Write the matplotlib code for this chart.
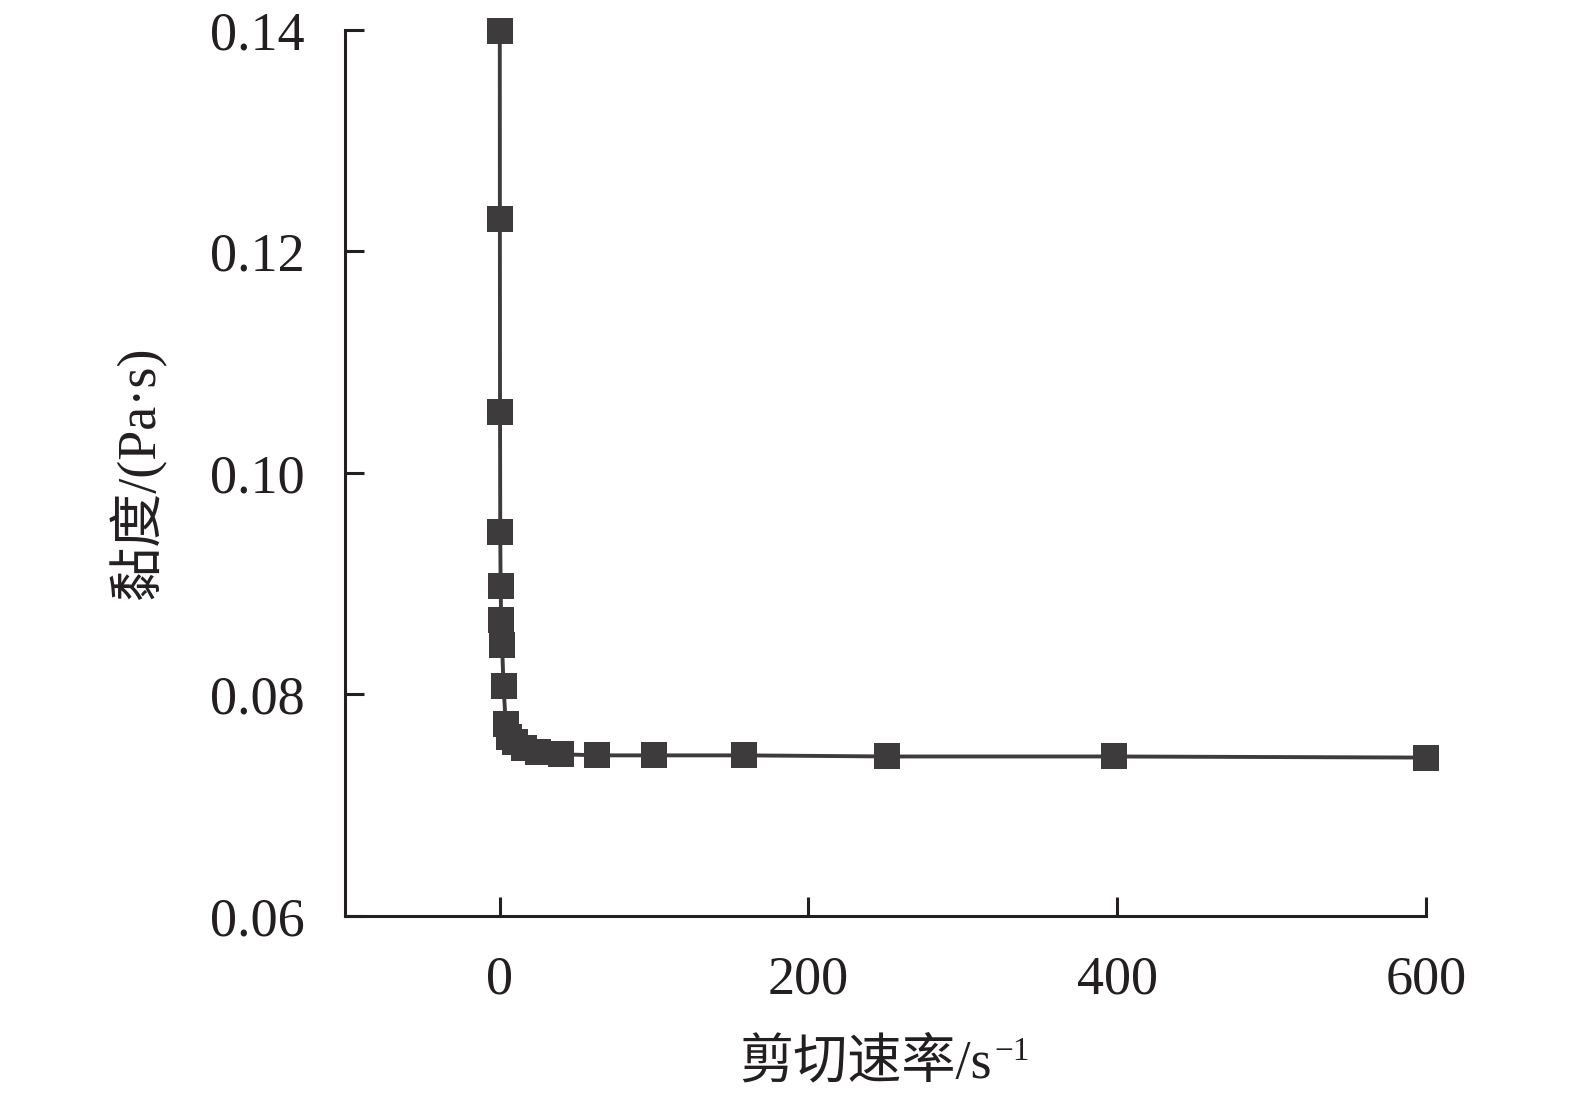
import matplotlib
matplotlib.use("Agg")
import matplotlib.pyplot as plt

plt.rcParams['font.family'] = ['Liberation Serif', 'Noto Sans CJK SC']

shear_rate = [0.1, 0.158, 0.251, 0.398, 0.631, 1.0, 1.58, 2.51, 3.98, 6.31,
              10.0, 15.8, 25.1, 39.8, 63.1, 100.0, 158.0, 251.0, 398.0, 600.0]
viscosity = [0.1399, 0.1229, 0.1055, 0.0947, 0.0898, 0.0867, 0.0845, 0.0808, 0.0773, 0.0762,
             0.0757, 0.0752, 0.0748, 0.0746, 0.0745, 0.0745, 0.0745, 0.0744, 0.0744, 0.0743]
x_ticks = [0, 200, 400, 600]
y_ticks = [0.06, 0.08, 0.10, 0.12, 0.14]
y_tick_labels = ["0.06", "0.08", "0.10", "0.12", "0.14"]

color = '#3e3b3c'
ink = '#231f20'
fig = plt.figure(figsize=(15.75, 10.98), dpi=100)
ax = fig.add_axes([0.2192, 0.1658, 0.9054 - 0.2192, 0.9727 - 0.1658])
ax.plot(shear_rate, viscosity, color=color, lw=2.8, marker='s', ms=18.5,
        mfc=color, mec=color, mew=0, clip_on=False)
ax.set_xlim(-100, 600)
ax.set_ylim(0.06, 0.14)
ax.set_xticks(x_ticks)
ax.set_yticks(y_ticks)
ax.set_yticklabels(y_tick_labels)
for s in ['top', 'right']:
    ax.spines[s].set_visible(False)
for s in ['left', 'bottom']:
    ax.spines[s].set_linewidth(2.2)
    ax.spines[s].set_color(ink)
ax.tick_params(axis='both', direction='in', length=14, width=2.2, color=ink,
               labelsize=39, labelcolor=ink)
ax.tick_params(axis='x', pad=28)
ax.tick_params(axis='y', pad=29)
ax.set_xlabel('剪切速率/s', fontsize=39, color=ink, labelpad=24)
ax.set_ylabel('黏度/(Pa·s)', fontsize=39, color=ink, labelpad=32)
ax.xaxis.label.set_x(0.4815)

fig.canvas.draw()
bb = ax.xaxis.label.get_window_extent(fig.canvas.get_renderer())
fig.text(bb.x1 + 2, bb.y1 + 2, '\u22121', fontsize=24, color=ink,
         ha='left', va='top', transform=None)
fig.savefig('out.png', dpi=100)
